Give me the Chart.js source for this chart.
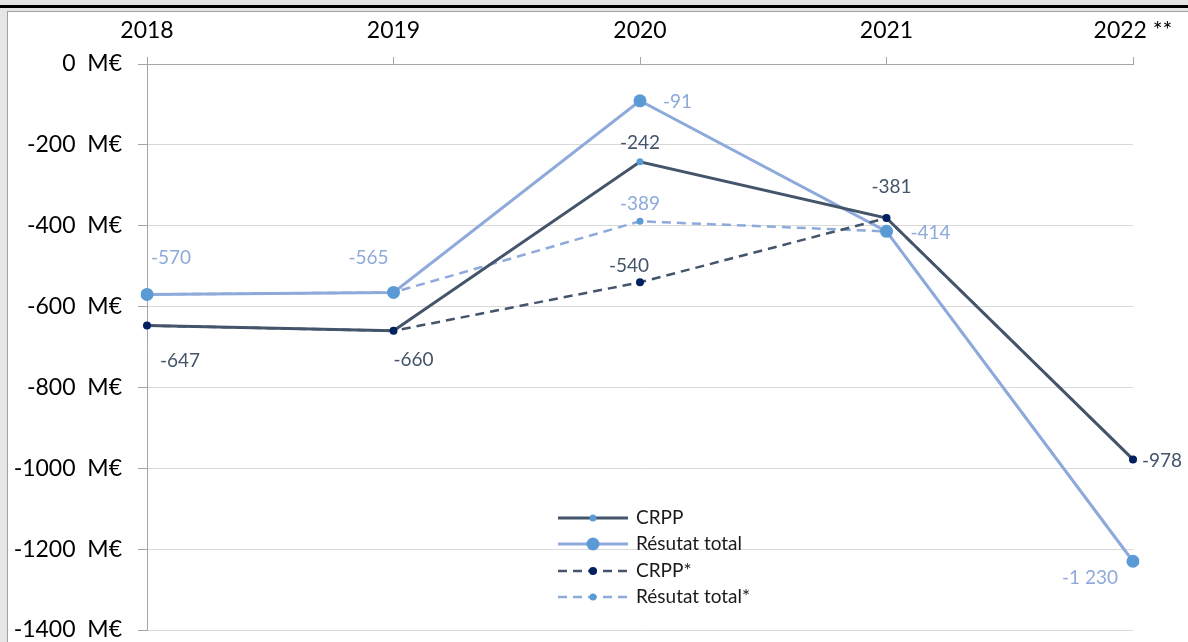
<!DOCTYPE html>
<html>
<head>
<meta charset="utf-8">
<script src="https://cdn.jsdelivr.net/npm/chart.js@4.4.1/dist/chart.umd.min.js"></script>
<style>
  html, body { margin: 0; padding: 0; background: #e6e6e6; }
  #frame { position: absolute; left: 0; top: 0; width: 1188px; height: 642px; background: #e6e6e6; overflow: hidden; }
  #topbar { position: absolute; left: 0; top: 5px; width: 1188px; height: 3px; background: #000; }
  #inner { position: absolute; left: 7px; top: 11px; right: 0; bottom: 0; background: #fff; border-left: 1px solid #a0a0a0; border-top: 1px solid #a0a0a0; }
  #wrap { position: absolute; left: 0; top: 0; width: 1188px; height: 642px; }
</style>
</head>
<body>
<div id="frame">
  <div id="topbar"></div>
  <div id="inner"></div>
  <div id="wrap"><canvas id="c" width="1188" height="642"></canvas></div>
</div>
<script>
// ---- Data ----
const categories = ['2018', '2019', '2020', '2021', '2022 **'];
const crpp = [-647, -660, -242, -381, -978];
const resultatTotal = [-570, -565, -91, -414, -1230];
const crppStar = [-647, -660, -540, -381, -978];
const resultatTotalStar = [-570, -565, -389, -414, -1230];
const yTicks = [0, -200, -400, -600, -800, -1000, -1200, -1400];

// ---- Styles ----
const DARK = '#44546a';
const LIGHT = '#8eaadb';
const MARK = '#5b9bd5';
const NAVY = '#002060';
const FONT = 'Lato, "Open Sans", sans-serif';

// label placement per point (offsets in px from the point, alignment); null = no label
const labelLayout = {
  'CRPP': [null, null, {dx: 0, dy: -19, align: 'center'}, null, null],
  'Résutat total': [
    {dx: 24, dy: -37, align: 'center'},
    {dx: -25, dy: -35, align: 'center'},
    {dx: 23, dy: 1, align: 'left'},
    {dx: 24, dy: 2, align: 'left'},
    {dx: -43, dy: 17, align: 'center'}
  ],
  'CRPP*': [
    {dx: 33, dy: 35, align: 'center'},
    {dx: 20, dy: 29, align: 'center'},
    {dx: -11, dy: -16, align: 'center'},
    {dx: 5, dy: -31, align: 'center'},
    {dx: 9, dy: 1, align: 'left'}
  ],
  'Résutat total*': [null, null, {dx: 0, dy: -17, align: 'center'}, null, null]
};
const labelColors = {'CRPP': DARK, 'Résutat total': LIGHT, 'CRPP*': DARK, 'Résutat total*': LIGHT};

function fmt(v) {
  const s = String(Math.abs(v));
  const grouped = s.replace(/\B(?=(\d{3})+(?!\d))/g, ' ');
  return (v < 0 ? '-' : '') + grouped;
}

const datasets = [
  {label: 'Résutat total*', data: resultatTotalStar, borderColor: LIGHT, borderWidth: 2.5, borderDash: [9, 6],
   pointRadius: 3.5, pointBackgroundColor: MARK, pointBorderWidth: 0, order: 4},
  {label: 'CRPP*', data: crppStar, borderColor: DARK, borderWidth: 2.5, borderDash: [9, 6],
   pointRadius: 4, pointBackgroundColor: NAVY, pointBorderWidth: 0, order: 1},
  {label: 'CRPP', data: crpp, borderColor: DARK, borderWidth: 3,
   pointRadius: 3.5, pointBackgroundColor: MARK, pointBorderWidth: 0, order: 2},
  {label: 'Résutat total', data: resultatTotal, borderColor: LIGHT, borderWidth: 3,
   pointRadius: 6.5, pointBackgroundColor: MARK, pointBorderWidth: 0, order: 3}
];
const legendOrder = ['CRPP', 'Résutat total', 'CRPP*', 'Résutat total*'];

const overlayPlugin = {
  id: 'overlay',
  afterDatasetsDraw(chart) {
    const ctx = chart.ctx;
    ctx.save();
    // data labels
    ctx.font = '19px ' + FONT;
    ctx.textBaseline = 'middle';
    chart.data.datasets.forEach((ds, i) => {
      const meta = chart.getDatasetMeta(i);
      const lay = labelLayout[ds.label];
      meta.data.forEach((pt, j) => {
        const l = lay && lay[j];
        if (!l) return;
        ctx.fillStyle = labelColors[ds.label];
        ctx.textAlign = l.align;
        ctx.fillText(fmt(ds.data[j]), pt.x + l.dx, pt.y + l.dy);
      });
    });
    // legend
    const x0 = 558, x1 = 628, tx = 636, rows = [518, 544, 571, 597];
    legendOrder.forEach((name, k) => {
      const ds = chart.data.datasets.find(d => d.label === name);
      const y = rows[k];
      ctx.beginPath();
      ctx.setLineDash(ds.borderDash || []);
      ctx.lineWidth = ds.borderWidth;
      ctx.strokeStyle = ds.borderColor;
      ctx.moveTo(x0, y); ctx.lineTo(x1, y); ctx.stroke();
      ctx.setLineDash([]);
      ctx.beginPath();
      ctx.fillStyle = ds.pointBackgroundColor;
      ctx.arc((x0 + x1) / 2, y, ds.pointRadius, 0, Math.PI * 2);
      ctx.fill();
      ctx.fillStyle = '#1a1a1a';
      ctx.textAlign = 'left';
      ctx.font = '19px ' + FONT;
      ctx.fillText(name, tx, y);
    });
    ctx.restore();
  }
};

new Chart(document.getElementById('c'), {
  type: 'line',
  data: {labels: categories, datasets: datasets},
  options: {
    responsive: false,
    animation: false,
    layout: {padding: {left: 0, right: 55, top: 0, bottom: 12}},
    plugins: {legend: {display: false}, tooltip: {enabled: false}},
    scales: {
      x: {
        position: 'top',
        offset: false,
        afterFit(scale) { scale.height = 64; },
        grid: {drawOnChartArea: false, drawTicks: true, tickLength: 7, tickColor: '#a6a6a6'},
        border: {color: '#a6a6a6', width: 1},
        ticks: {font: {family: FONT, size: 23}, color: '#000', padding: 13, maxRotation: 0, autoSkip: false}
      },
      y: {
        min: Math.min(...yTicks),
        max: Math.max(...yTicks),
        afterFit(scale) { scale.width = 147; scale.paddingTop = 0; scale.paddingBottom = 0; },
        afterBuildTicks(scale) { scale.ticks = yTicks.map(v => ({value: v})); },
        grid: {color: '#d9d9d9', tickColor: '#a6a6a6', tickLength: 9, lineWidth: 1},
        border: {color: '#a6a6a6', width: 1},
        ticks: {font: {family: FONT, size: 23}, color: '#000', padding: 16,
                callback: v => v + '  M€'}
      }
    }
  },
  plugins: [overlayPlugin]
});
</script>
</body>
</html>
